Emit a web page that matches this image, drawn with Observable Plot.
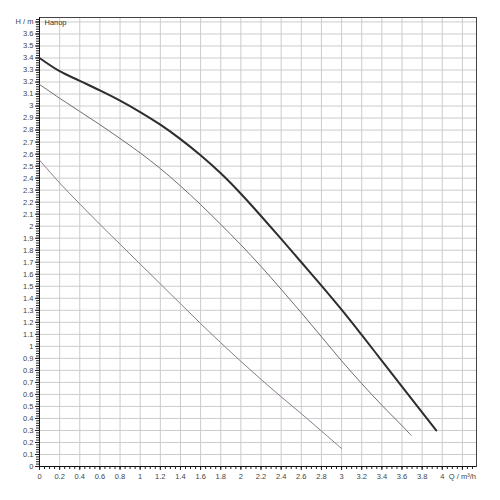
<!DOCTYPE html>
<html>
<head>
<meta charset="utf-8">
<script src="https://cdn.jsdelivr.net/npm/d3@7"></script>
<script src="https://cdn.jsdelivr.net/npm/@observablehq/plot@0.6"></script>
<style>
  html, body { margin: 0; padding: 0; background: #fff; }
  #chart svg { display: block; }
</style>
</head>
<body>
<div id="chart"></div>
<script>
// Curve data (Q in m³/h, H in m)
const topQ = [0, 0.2, 0.4, 0.6, 0.8, 1.0, 1.2, 1.4, 1.6, 1.8, 2.0, 2.2, 2.4, 2.6, 2.8, 3.0, 3.2, 3.4, 3.6, 3.8, 3.94];
const topH = [3.40, 3.29, 3.21, 3.13, 3.045, 2.95, 2.845, 2.725, 2.59, 2.44, 2.27, 2.085, 1.895, 1.70, 1.505, 1.305, 1.095, 0.88, 0.665, 0.45, 0.30];

const midQ = [0, 0.2, 0.4, 0.6, 0.8, 1.0, 1.2, 1.4, 1.6, 1.8, 2.0, 2.2, 2.4, 2.6, 2.8, 3.0, 3.2, 3.4, 3.6, 3.69];
const midH = [3.18, 3.065, 2.955, 2.845, 2.73, 2.61, 2.48, 2.335, 2.18, 2.015, 1.845, 1.665, 1.475, 1.28, 1.08, 0.88, 0.69, 0.51, 0.34, 0.26];

const botQ = [0, 0.2, 0.4, 0.6, 0.8, 1.0, 1.2, 1.4, 1.6, 1.8, 2.0, 2.2, 2.4, 2.6, 2.8, 3.0];
const botH = [2.55, 2.36, 2.185, 2.015, 1.85, 1.685, 1.52, 1.355, 1.19, 1.03, 0.875, 0.725, 0.58, 0.44, 0.295, 0.15];

// Axis tick labels
const xTicks = [0, 0.2, 0.4, 0.6, 0.8, 1, 1.2, 1.4, 1.6, 1.8, 2, 2.2, 2.4, 2.6, 2.8, 3, 3.2, 3.4, 3.6, 3.8, 4, 4.2];
const xLabel = "Q / m³/h";
const yTicks = [0, 0.1, 0.2, 0.3, 0.4, 0.5, 0.6, 0.7, 0.8, 0.9, 1, 1.1, 1.2, 1.3, 1.4, 1.5, 1.6, 1.7, 1.8, 1.9, 2, 2.1, 2.2, 2.3, 2.4, 2.5, 2.6, 2.7, 2.8, 2.9, 3, 3.1, 3.2, 3.3, 3.4, 3.5, 3.6, 3.7];
const yLabel = "H / m";
const title = "Напор";

const toRows = (qs, hs) => qs.map((q, i) => ({Q: q, H: hs[i]}));
const xMinor = d3.range(0, 87).map(i => +(i * 0.05).toFixed(2));
const yMinor = d3.range(0, 187).map(i => +(i * 0.02).toFixed(2));

const chart = Plot.plot({
  width: 500,
  height: 500,
  marginLeft: 39,
  marginRight: 24,
  marginTop: 17,
  marginBottom: 34,
  style: {fontFamily: "'Liberation Sans', Arial, sans-serif", fontSize: "7.5px", background: "#fff", color: "#444"},
  x: {domain: [0, 4.34]},
  y: {domain: [0, 3.737]},
  marks: [
    Plot.gridX(xTicks, {stroke: "#cccccc", strokeOpacity: 1}),
    Plot.gridY(yTicks, {stroke: "#cccccc", strokeOpacity: 1}),
    Plot.axisX(xMinor, {tickSize: 3, tickFormat: () => "", stroke: "#222", label: null}),
    Plot.axisY(yMinor, {tickSize: 3, tickFormat: () => "", stroke: "#222", label: null}),
    Plot.axisX(xTicks, {tickSize: 4, tickPadding: 3, stroke: "#222", fill: "#444", label: null,
      tickFormat: d => d === 4.2 ? xLabel : String(+d.toFixed(1))}),
    Plot.axisY(yTicks, {tickSize: 4, tickPadding: 2, stroke: "#222", fill: "#444", label: null,
      tickFormat: d => d === 3.7 ? yLabel : String(+d.toFixed(1))}),
    Plot.frame({stroke: "#444"}),
    Plot.ruleX([0], {stroke: "#111"}),
    Plot.ruleY([0], {stroke: "#111"}),
    Plot.text([title], {frameAnchor: "top-left", dx: 5, dy: 2, fill: "#333", fontSize: 7.5, textAnchor: "start"}),
    Plot.line(toRows(botQ, botH), {x: "Q", y: "H", stroke: "#8a7a8e", strokeWidth: 1, curve: "catmull-rom"}),
    Plot.line(toRows(midQ, midH), {x: "Q", y: "H", stroke: "#6e6e6e", strokeWidth: 1, curve: "catmull-rom"}),
    Plot.line(toRows(topQ, topH), {x: "Q", y: "H", stroke: "#2e2e2e", strokeWidth: 2, curve: "catmull-rom"})
  ]
});
document.getElementById("chart").appendChild(chart);
</script>
</body>
</html>
